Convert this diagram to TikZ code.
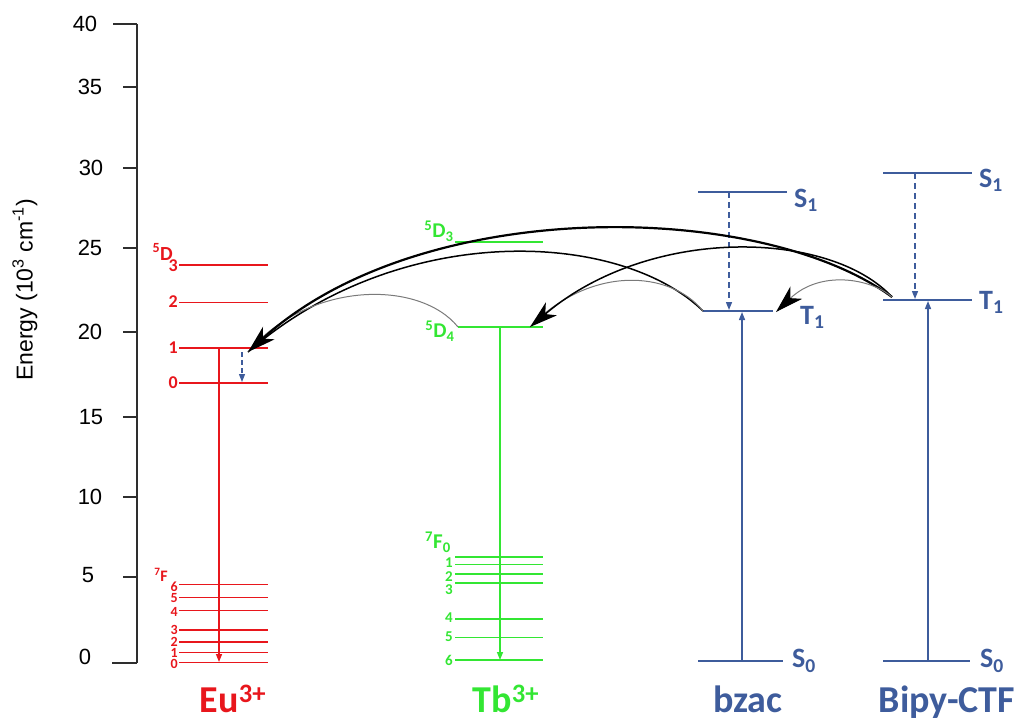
\documentclass[tikz,border=0pt]{standalone}
\usepackage{fontspec}
\setmainfont{Carlito}
\newfontfamily\axisfont{Liberation Sans}
\usetikzlibrary{arrows.meta}
\newcommand{\Unit}{1pt}
\newcommand{\Thin}{1pt}
\newcommand{\Thick}{2pt}
\definecolor{eured}{HTML}{E8161C}
\definecolor{tbgreen}{HTML}{33E633}
\definecolor{ligblue}{HTML}{3E5C9C}
\definecolor{axisink}{HTML}{2E2E2E}
\definecolor{etgray}{HTML}{7A7A7A}

\tikzset{
  lbl/.style={inner sep=0pt, font=\fontsize{#1}{#1}\selectfont\bfseries},
  ticklabel/.style={inner sep=0pt, font=\axisfont\fontsize{22}{22}\selectfont},
  liglevel/.style={ligblue, line width=1.3pt},
  emit/.style={line width=1.4pt, -{Triangle[length=8pt,width=6pt]}},
  relax/.style={ligblue, line width=1.4pt, dash pattern=on 6pt off 4pt,
    -{Triangle[length=8pt,width=6pt]}},
  transfer/.style={-{Stealth[length=28pt,width=17pt,inset=8pt,color=black]}},
}

\begin{document}
\begin{tikzpicture}[x=\Unit,y=-\Unit, line join=round]
  \useasboundingbox (0,0) rectangle (1027,723);

  % ---- energy axis --------------------------------------------------------
  \draw[axisink, line width=1.8pt] (137,24) -- (137,663);
  \foreach \e/\y/\t/\lx/\ly in {40/24/113/85/24, 35/87/123/90/87, 30/168/123/91/168,
      25/248/123/90/248, 20/332/123/90/332, 15/417/123/91/417, 10/497/123/90/497,
      5/577/123/88/575, 0/663/112/85/657} {
    \draw[axisink, line width=1.8pt] (\t,\y) -- (137,\y);
    \node[ticklabel] (tick\e) at (\lx,\ly) {\e};
  }
  \node[rotate=90, inner sep=0pt, font=\axisfont\fontsize{23}{23}\selectfont]
    (ylabel) at (25,290) {Energy (10\textsuperscript{3} cm\textsuperscript{-1})};

  % ---- Eu(III) ------------------------------------------------------------
  \foreach \y/\w in {265/\Thick, 302/\Thin, 348/1.5pt, 383/\Thick,
      584/\Thin, 597/\Thin, 610/\Thin, 630/\Thick, 642/\Thick, 652/\Thin, 662/\Thin} {
    \draw[eured, line width=\w] (179,\y) -- (268,\y);
  }
  \node[lbl=20, eured, anchor=east] (euD) at (173,252) {\textsuperscript{5}D};
  \foreach \j/\y in {3/266, 2/302, 1/348, 0/383} {
    \node[lbl=18, eured, anchor=east] (euD\j) at (178,\y) {\j};
  }
  \node[lbl=16, eured, anchor=south east] (euF) at (168,582) {\textsuperscript{7}F};
  \foreach \j/\y in {6/587, 5/598, 4/612, 3/630, 2/642, 1/653, 0/664} {
    \node[lbl=14, eured, anchor=east] (euF\j) at (178,\y) {\j};
  }
  \node[lbl=38, eured, anchor=base] (eu) at (233,712) {Eu\textsuperscript{3+}};

  \coordinate (euTop) at (219,348);
  \coordinate (euBot) at (219,662);
  \coordinate (euIn) at (248,352);
  \coordinate (euRelTop) at (242,352);
  \coordinate (euRelBot) at (242,382);
  \draw[emit, eured] (euTop) -- (euBot);
  \draw[relax, line width=1.2pt, dash pattern=on 5pt off 3pt] (euRelTop) -- (euRelBot);

  % ---- Tb(III) ------------------------------------------------------------
  \draw[tbgreen, line width=1.2pt] (455,242) -- (543,242);
  \draw[tbgreen, line width=\Thick] (458,327) -- (543,327);
  \foreach \y/\w in {557/1.5pt, 564/\Thin, 574/1.5pt, 583/\Thick, 619/\Thick, 637/\Thin, 660/\Thick} {
    \draw[tbgreen, line width=\w] (455,\y) -- (543,\y);
  }
  \node[lbl=21, tbgreen] (tbD3) at (439,231) {\textsuperscript{5}D\textsubscript{3}};
  \node[lbl=21, tbgreen] (tbD4) at (440,331) {\textsuperscript{5}D\textsubscript{4}};
  \node[lbl=21, tbgreen] (tbF) at (438,542) {\textsuperscript{7}F\textsubscript{0}};
  \foreach \j/\y in {1/563, 2/577, 3/590, 4/618, 5/637, 6/660} {
    \node[lbl=15, tbgreen, anchor=east] (tbF\j) at (453,\y) {\j};
  }
  \node[lbl=38, tbgreen, anchor=base] (tb) at (506,712) {Tb\textsuperscript{3+}};

  \coordinate (tbTop) at (500,327);
  \coordinate (tbBot) at (500,660);
  \coordinate (tbOut) at (458,327);
  \coordinate (tbIn) at (530,327);
  \draw[emit, tbgreen] (tbTop) -- (tbBot);

  % ---- bzac ---------------------------------------------------------------
  \draw[liglevel] (698,192) -- (787,192);
  \draw[liglevel, line width=1.6pt] (703,311) -- (773,311);
  \draw[liglevel] (698,661) -- (783,661);
  \node[lbl=28, ligblue, anchor=west] (bzS1) at (794,200) {S\textsubscript{1}};
  \node[lbl=28, ligblue, anchor=west] (bzT1) at (800,317) {T\textsubscript{1}};
  \node[lbl=28, ligblue, anchor=west] (bzS0) at (792,661) {S\textsubscript{0}};
  \node[lbl=38, ligblue, anchor=base] (bzac) at (748,712) {bzac};

  \coordinate (bzRelTop) at (729,192);
  \coordinate (bzRelBot) at (729,310);
  \coordinate (bzExcBot) at (742,661);
  \coordinate (bzExcTop) at (742,312);
  \coordinate (bzOut) at (703,311);
  \coordinate (bzIn) at (776,312);
  \draw[relax] (bzRelTop) -- (bzRelBot);
  \draw[emit, ligblue] (bzExcBot) -- (bzExcTop);

  % ---- Bipy-CTF -----------------------------------------------------------
  \draw[liglevel] (883,173) -- (972,173);
  \draw[liglevel, line width=1.6pt] (883,300) -- (972,300);
  \draw[liglevel] (883,661) -- (970,661);
  \node[lbl=28, ligblue, anchor=west] (bpS1) at (979,180) {S\textsubscript{1}};
  \node[lbl=28, ligblue, anchor=west] (bpT1) at (979,302) {T\textsubscript{1}};
  \node[lbl=28, ligblue, anchor=west] (bpS0) at (980,661) {S\textsubscript{0}};
  \node[lbl=38, ligblue, anchor=base] (bipy) at (947,712) {Bipy-CTF};

  \coordinate (bpRelTop) at (915,173);
  \coordinate (bpRelBot) at (915,299);
  \coordinate (bpExcBot) at (928,661);
  \coordinate (bpExcTop) at (928,301);
  \coordinate (bpOut) at (892,297);
  \draw[relax] (bpRelTop) -- (bpRelBot);
  \draw[emit, ligblue] (bpExcBot) -- (bpExcTop);

  % ---- energy transfer ----------------------------------------------------
  \draw[line width=1.5pt] (bzOut) .. controls (620,230) and (400,220) .. (euIn);
  \draw[etgray, line width=1pt] (tbOut) .. controls (420,280) and (310,280) .. (euIn);
  \draw[transfer, line width=2.2pt] (bpOut) .. controls (760,200) and (420,195) .. (euIn);
  \draw[etgray, line width=1pt] (bzOut) .. controls (670,270) and (590,265) .. (tbIn);
  \draw[transfer, line width=1.5pt] (bpOut) .. controls (830,230) and (650,225) .. (tbIn);
  \draw[transfer, etgray, line width=1pt] (bpOut) .. controls (870,278) and (820,270) .. (bzIn);

\end{tikzpicture}
\end{document}
